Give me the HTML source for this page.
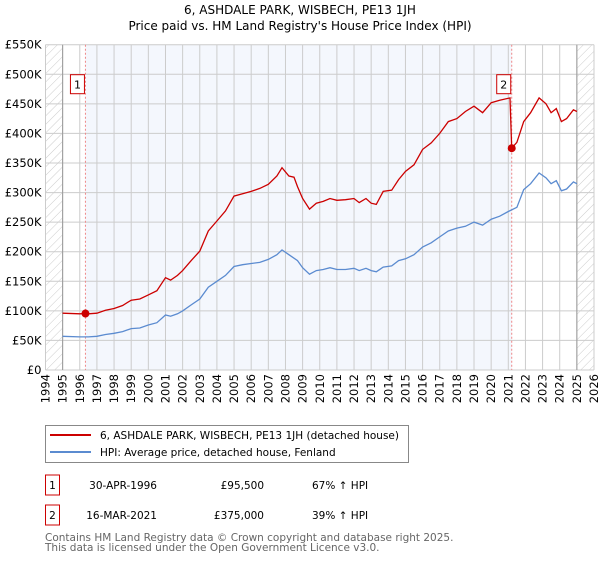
<!DOCTYPE html>
<html><head><meta charset="utf-8"><style>
body{margin:0;background:#fff;width:600px;height:560px;overflow:hidden;font-family:"DejaVu Sans","Liberation Sans",sans-serif;}
svg text{font-family:"DejaVu Sans","Liberation Sans",sans-serif;}
</style></head><body>
<svg id="c" width="600" height="560" xmlns="http://www.w3.org/2000/svg"></svg>
<script>
const yTicks=[0,50,100,150,200,250,300,350,400,450,500,550];
const yTickLabels=["£0","£50K","£100K","£150K","£200K","£250K","£300K","£350K","£400K","£450K","£500K","£550K"];
const xYears=[1994,1995,1996,1997,1998,1999,2000,2001,2002,2003,2004,2005,2006,2007,2008,2009,2010,2011,2012,2013,2014,2015,2016,2017,2018,2019,2020,2021,2022,2023,2024,2025,2026];
const hpiT=[1995.0,1996.0,1996.5,1997.0,1997.5,1998,1998.5,1999,1999.5,2000,2000.5,2001,2001.3,2001.7,2002,2002.5,2003,2003.5,2004,2004.5,2005,2005.5,2006,2006.5,2007,2007.5,2007.8,2008.2,2008.7,2009,2009.4,2009.8,2010.2,2010.6,2011,2011.5,2012,2012.3,2012.7,2013,2013.3,2013.7,2014.2,2014.6,2015,2015.5,2016,2016.5,2017,2017.5,2018,2018.5,2019,2019.5,2020,2020.5,2021,2021.5,2021.9,2022.3,2022.8,2023.2,2023.5,2023.8,2024.1,2024.4,2024.8,2025];
const hpiV=[57,56,56,57,60,62,65,70,71,76,80,93,91,95,100,110,120,140,150,160,175,178,180,182,187,195,203,195,185,173,162,168,170,173,170,170,172,168,172,168,166,174,176,185,188,195,208,215,225,235,240,243,250,245,255,260,268,275,305,315,333,325,315,320,303,306,318,315];
const priceT=[1995.0,1996.0,1996.33,1996.5,1997.0,1997.5,1998,1998.5,1999,1999.5,2000,2000.5,2001,2001.3,2001.7,2002,2002.5,2003,2003.5,2004,2004.5,2005,2005.5,2006,2006.5,2007,2007.5,2007.8,2008.2,2008.5,2008.7,2009,2009.4,2009.8,2010.2,2010.6,2011,2011.5,2012,2012.3,2012.7,2013,2013.3,2013.7,2014.2,2014.6,2015,2015.5,2016,2016.5,2017,2017.5,2018,2018.5,2019,2019.5,2020,2020.5,2021.1,2021.2,2021.5,2021.9,2022.3,2022.8,2023.2,2023.5,2023.8,2024.1,2024.4,2024.8,2025];
const priceV=[96,95,95.5,95,96,101,104,109,118,120,127,134,156,152,160,168,185,201,235,252,269,294,298,302,307,314,328,342,328,326,310,290,272,282,285,290,287,288,290,283,290,282,280,302,304,322,336,347,373,384,400,420,425,437,446,435,452,456,460,375,385,420,435,460,450,435,442,420,425,440,437];
const sales=[{t:1996.33,v:95.5,n:"1"},{t:2021.2,v:375,n:"2"}];

const svg=document.getElementById('c');const NS="http://www.w3.org/2000/svg";
const X0=45.5,X1=594,Y0=370,Y1=44.7;
const xs=t=>X0+(t-1994)/(2026-1994)*(X1-X0);
const ys=v=>Y0-v/550*(Y0-Y1);
function el(tag,attrs,name,txt){const e=document.createElementNS(NS,tag);for(const k in attrs)e.setAttribute(k,attrs[k]);


if(txt!==undefined)e.textContent=txt;svg.appendChild(e);return e;}
el('text',{x:300,y:14,'text-anchor':'middle','font-size':12},'chart-title','6, ASHDALE PARK, WISBECH, PE13 1JH');
el('text',{x:300,y:30,'text-anchor':'middle','font-size':12},'chart-subtitle',"Price paid vs. HM Land Registry's House Price Index (HPI)");
const defs=document.createElementNS(NS,'defs');defs.innerHTML='<pattern id="h" width="6" height="6" patternUnits="userSpaceOnUse" patternTransform="rotate(45)"><line x1="0" y1="0" x2="0" y2="6" stroke="#ccc" stroke-width="1"/></pattern>';svg.appendChild(defs);
el('rect',{x:X0,y:Y1,width:xs(1995)-X0,height:Y0-Y1,fill:'url(#h)'},'hatch-left');
el('rect',{x:xs(2025),y:Y1,width:X1-xs(2025),height:Y0-Y1,fill:'url(#h)'},'hatch-right');
el('rect',{x:xs(sales[0].t),y:Y1,width:xs(sales[1].t)-xs(sales[0].t),height:Y0-Y1,fill:'#f4f7fd'},'ownership-shade');
yTicks.forEach((v,i)=>{el('line',{x1:X0,x2:X1,y1:ys(v),y2:ys(v),stroke:'#ccc','stroke-width':1},'y-grid-line');
el('text',{x:X0-4,y:ys(v)+4,'text-anchor':'end','font-size':11.5},'y-tick-label',yTickLabels[i]);});
xYears.forEach(y=>{el('line',{x1:xs(y),x2:xs(y),y1:Y1,y2:Y0,stroke:'#ccc','stroke-width':1},'x-grid-line');
el('text',{transform:`translate(${xs(y)+4},${Y0+4}) rotate(-90)`,'text-anchor':'end','font-size':11.5},'x-tick-label',String(y));});
el('line',{x1:xs(1995),x2:xs(1995),y1:Y1,y2:Y0,stroke:'#999','stroke-width':1},'data-start-line');
el('line',{x1:xs(2025),x2:xs(2025),y1:Y1,y2:Y0,stroke:'#999','stroke-width':1},'data-end-line');
sales.forEach(s=>{el('line',{x1:xs(s.t),x2:xs(s.t),y1:Y1,y2:Y0,stroke:'#e88','stroke-width':1,'stroke-dasharray':'2,2'},'sale-marker-line');});
const pts=(T,V)=>T.map((t,i)=>xs(t).toFixed(1)+','+ys(V[i]).toFixed(1)).join(' ');
el('polyline',{points:pts(hpiT,hpiV),fill:'none',stroke:'#5b8bd0','stroke-width':1.3},'hpi-line');
el('polyline',{points:pts(priceT,priceV),fill:'none',stroke:'#cc0000','stroke-width':1.3},'price-line');
sales.forEach(s=>{el('circle',{cx:xs(s.t),cy:ys(s.v),r:4,fill:'#cc0000'},'sale-point-'+s.n);
el('rect',{x:xs(s.t)-15,y:Y1+30,width:14,height:19,fill:'#fff',stroke:'#cc0000'},'sale-badge-'+s.n);
el('text',{x:xs(s.t)-8,y:Y1+44,'text-anchor':'middle','font-size':11},'sale-badge-label-'+s.n,s.n);});
el('rect',{x:45.5,y:425.5,width:363,height:37,fill:'#fff',stroke:'#888'},'legend-box');
el('line',{x1:50,x2:91,y1:435,y2:435,stroke:'#cc0000','stroke-width':2},'legend-price-swatch');
el('text',{x:100,y:439,'font-size':10.5,textLength:299,lengthAdjust:'spacingAndGlyphs'},'legend-price-label','6, ASHDALE PARK, WISBECH, PE13 1JH (detached house)');
el('line',{x1:50,x2:91,y1:452,y2:452,stroke:'#5b8bd0','stroke-width':2},'legend-hpi-swatch');
el('text',{x:100,y:456,'font-size':10.5},'legend-hpi-label','HPI: Average price, detached house, Fenland');
[[1,'30-APR-1996','£95,500','67% ↑ HPI',483],[2,'16-MAR-2021','£375,000','39% ↑ HPI',513]].forEach(r=>{
el('rect',{x:45.5,y:r[4]-8,width:14,height:20,fill:'#fff',stroke:'#cc0000'},'table-badge-'+r[0]);
el('text',{x:52.5,y:r[4]+6,'text-anchor':'middle','font-size':10.5},'table-badge-label',String(r[0]));
el('text',{x:157,y:r[4]+6,'text-anchor':'end','font-size':10.5},'table-date',r[1]);
el('text',{x:264,y:r[4]+6,'text-anchor':'end','font-size':10.5},'table-price',r[2]);
el('text',{x:312,y:r[4]+6,'font-size':10.5},'table-hpi-change',r[3]);});
el('text',{x:45,y:541,'font-size':10.5,fill:'#666'},'footer-line-1','Contains HM Land Registry data © Crown copyright and database right 2025.');
el('text',{x:45,y:551,'font-size':10.5,fill:'#666'},'footer-line-2','This data is licensed under the Open Government Licence v3.0.');
</script>
</body></html>
